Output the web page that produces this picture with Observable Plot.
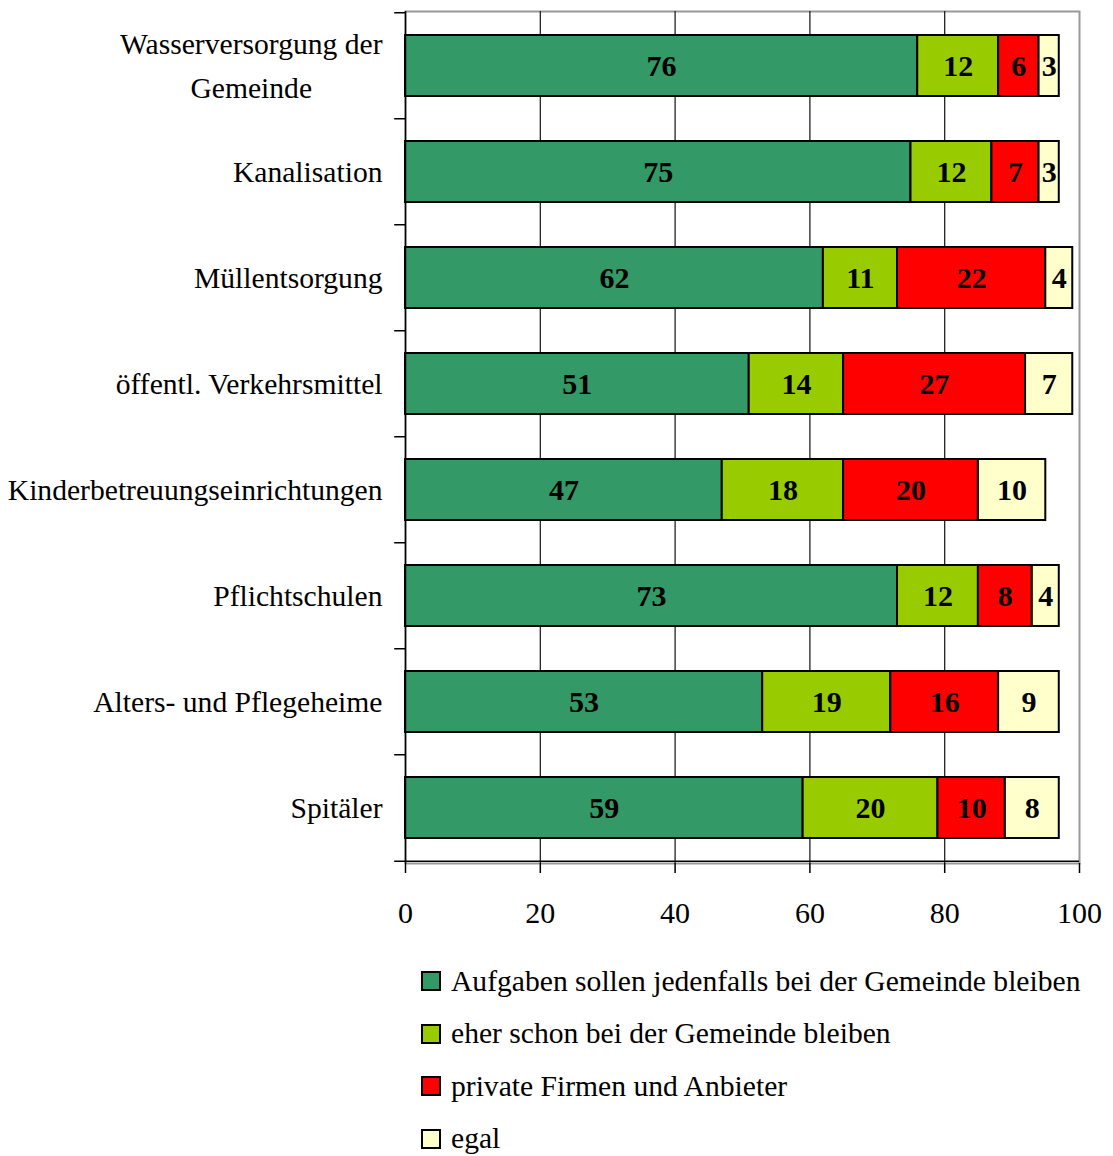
<!DOCTYPE html>
<html>
<head>
<meta charset="utf-8">
<script src="https://cdn.jsdelivr.net/npm/d3@7"></script>
<script src="https://cdn.jsdelivr.net/npm/@observablehq/plot@0.6"></script>
<style>
  body { margin: 0; background: #fff; font-family: "Liberation Serif", "Times New Roman", serif; }
  #legend { margin-left: 421px; margin-top: 15px; }
  .row { display: flex; align-items: center; height: 52.5px; }
  .sw { width: 20px; height: 20px; box-sizing: border-box; border: 2px solid #000; margin-right: 10px; }
  .lab { font-size: 29.6px; color: #000; white-space: nowrap; }
</style>
</head>
<body>
<div id="chart"></div>
<div id="legend"></div>
<script>
const categories = [
  "Wasserversorgung der\nGemeinde",
  "Kanalisation",
  "Müllentsorgung",
  "öffentl. Verkehrsmittel",
  "Kinderbetreuungseinrichtungen",
  "Pflichtschulen",
  "Alters- und Pflegeheime",
  "Spitäler"
];
const seriesNames = [
  "Aufgaben sollen jedenfalls bei der Gemeinde bleiben",
  "eher schon bei der Gemeinde bleiben",
  "private Firmen und Anbieter",
  "egal"
];
const jedenfalls = [76, 75, 62, 51, 47, 73, 53, 59];
const eherSchon  = [12, 12, 11, 14, 18, 12, 19, 20];
const privat     = [6, 7, 22, 27, 20, 8, 16, 10];
const egal       = [3, 3, 4, 7, 10, 4, 9, 8];
const seriesColors = ["#339966", "#99cc00", "#ff0000", "#ffffcc"];
const xTicks = [0, 20, 40, 60, 80, 100];

const seriesValues = [jedenfalls, eherSchon, privat, egal];
const data = [];
categories.forEach((c, i) => {
  seriesNames.forEach((s, j) => data.push({cat: c, series: s, value: seriesValues[j][i]}));
});

const W = 1113, H = 940;
const mTop = 11, mBottom = 77, mLeft = 405, mRight = 34;
const halfStep = (H - mTop - mBottom) / categories.length / 2;

const chart = Plot.plot({
  width: W,
  height: H,
  marginTop: mTop,
  marginBottom: mBottom,
  marginLeft: mLeft,
  marginRight: mRight,
  style: {fontFamily: "'Liberation Serif', 'Times New Roman', serif", fontSize: "29px", background: "#fff", color: "#000"},
  x: {domain: [0, 100]},
  y: {domain: categories, paddingInner: 0.42, paddingOuter: 0.21},
  color: {domain: seriesNames, range: seriesColors},
  marks: [
    Plot.frame({stroke: "#999", strokeWidth: 2}),
    Plot.ruleX(xTicks.filter(t => t > 0 && t < 100), {stroke: "#111", strokeWidth: 1.2}),
    Plot.barX(data, Plot.stackX({
      x: "value", y: "cat", z: "series", fill: "series", order: seriesNames,
      stroke: "#000", strokeWidth: 2
    })),
    Plot.text(data, Plot.stackX({
      x: "value", y: "cat", z: "series", order: seriesNames, text: "value",
      fontWeight: "bold", fontSize: 30, fill: "#000"
    })),
    Plot.ruleX([0], {stroke: "#000", strokeWidth: 1.5}),
    Plot.ruleY(categories, {y: d => d, x1: -1.6, x2: 0, dy: -halfStep, stroke: "#000", strokeWidth: 1.5}),
    Plot.ruleY([categories[categories.length - 1]], {y: d => d, x1: -1.6, x2: 100, dy: halfStep, stroke: "#000", strokeWidth: 1.5}),
    Plot.axisX(xTicks, {tickSize: 10, tickPadding: 28, fontSize: 30, label: null, stroke: "#000", strokeWidth: 1.5}),
    Plot.axisY({tickSize: 0, tickPadding: 23, fontSize: 29.6, lineHeight: 1.47, dy: -4, label: null})
  ]
});
document.getElementById("chart").appendChild(chart);

// Center multi-line category labels (Excel-style), keeping the right edge of the longest line
chart.querySelectorAll("text").forEach(t => {
  const spans = t.querySelectorAll("tspan");
  if (spans.length > 1) {
    const widths = Array.from(spans).map(s => s.getComputedTextLength());
    const maxW = Math.max(...widths);
    spans.forEach((s, k) => {
      const shift = -(maxW - widths[k]) / 2;
      s.setAttribute("x", (parseFloat(s.getAttribute("x") || 0) + shift).toString());
    });
  }
});

const legend = d3.select("#legend");
seriesNames.forEach((s, j) => {
  const row = legend.append("div").attr("class", "row");
  row.append("div").attr("class", "sw").style("background", seriesColors[j]);
  row.append("div").attr("class", "lab").text(s);
});
</script>
</body>
</html>
